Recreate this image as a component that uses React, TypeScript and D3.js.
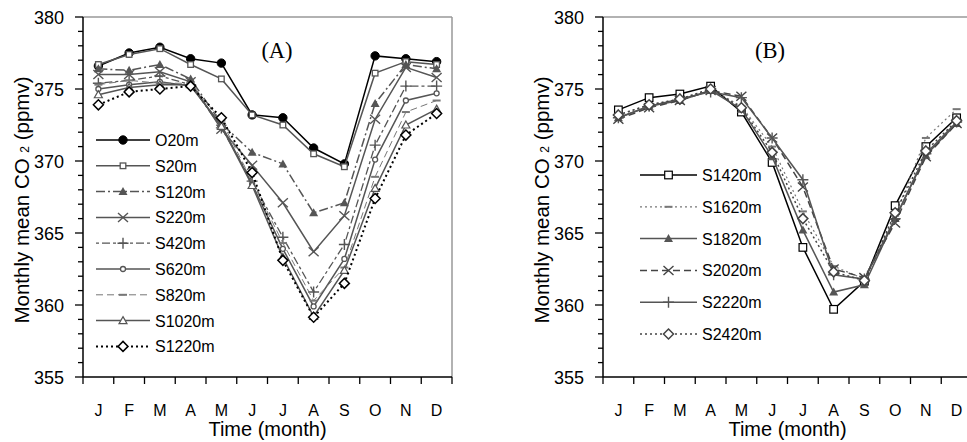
import React from "react";
import * as d3 from "d3";

const months = ["J", "F", "M", "A", "M2", "J2", "J3", "A2", "S", "O", "N", "D"];
const monthLabels = ["J", "F", "M", "A", "M", "J", "J", "A", "S", "O", "N", "D"];
const yTicks = [355, 360, 365, 370, 375, 380];

const seriesNamesA = ["O20m", "S20m", "S120m", "S220m", "S420m", "S620m", "S820m", "S1020m", "S1220m"];
const O20m = [376.6, 377.5, 377.9, 377.1, 376.8, 373.2, 373.0, 370.9, 369.8, 377.3, 377.1, 376.9];
const S20m = [376.7, 377.4, 377.8, 376.7, 375.7, 373.2, 372.5, 370.5, 369.6, 376.1, 376.9, 376.7];
const S120m = [376.4, 376.3, 376.7, 375.7, 372.6, 370.6, 369.8, 366.4, 367.1, 374.0, 376.7, 376.4];
const S220m = [376.0, 376.0, 376.2, 375.5, 372.2, 369.7, 367.1, 363.7, 366.2, 372.9, 376.5, 375.8];
const S420m = [375.4, 375.6, 375.9, 375.3, 372.3, 368.6, 364.7, 360.9, 364.2, 371.1, 375.2, 375.2];
const S620m = [375.0, 375.3, 375.5, 375.2, 372.5, 368.4, 363.9, 359.9, 363.2, 370.1, 374.2, 374.7];
const S820m = [375.3, 375.6, 375.4, 375.4, 372.8, 368.6, 364.3, 360.3, 362.6, 368.9, 373.4, 374.2];
const S1020m = [374.6, 375.1, 375.3, 375.3, 372.4, 368.3, 363.3, 359.2, 362.4, 368.1, 372.5, 373.6];
const S1220m = [373.9, 374.8, 375.0, 375.2, 373.0, 369.2, 363.1, 359.15, 361.5, 367.4, 371.8, 373.3];

const seriesNamesB = ["S1420m", "S1620m", "S1820m", "S2020m", "S2220m", "S2420m"];
const S1420m = [373.55, 374.4, 374.65, 375.2, 373.4, 369.9, 364.0, 359.7, 361.65, 366.9, 371.0, 373.0];
const S1620m = [373.2, 373.9, 374.3, 375.0, 373.8, 371.0, 366.5, 362.7, 361.8, 366.2, 371.6, 373.6];
const S1820m = [373.0, 373.8, 374.2, 374.9, 373.6, 370.3, 365.2, 360.9, 361.4, 366.0, 370.4, 372.6];
const S2020m = [372.9, 373.7, 374.2, 374.9, 374.5, 371.6, 368.2, 362.5, 361.9, 365.7, 370.3, 372.6];
const S2220m = [373.0, 373.8, 374.3, 374.8, 374.4, 371.6, 368.7, 362.1, 361.8, 366.0, 370.5, 372.7];
const S2420m = [373.2, 373.9, 374.3, 375.0, 373.7, 370.6, 366.0, 362.3, 361.7, 366.4, 370.7, 372.8];

type Style = { color: string; dash: string; marker: string; width: number };

const stylesA: Style[] = [
  { color: "#000", dash: "", marker: "circleFilled", width: 1.5 },
  { color: "#555", dash: "", marker: "squareSmall", width: 1.5 },
  { color: "#555", dash: "9,3,2,3", marker: "triFilled", width: 1.5 },
  { color: "#555", dash: "", marker: "x", width: 1.5 },
  { color: "#555", dash: "3,3,8,3", marker: "plus", width: 1.3 },
  { color: "#555", dash: "", marker: "circleSmall", width: 1.5 },
  { color: "#777", dash: "7,4", marker: "dash", width: 1 },
  { color: "#555", dash: "", marker: "triOpen", width: 1.5 },
  { color: "#000", dash: "2,3", marker: "diamondOpen", width: 2 },
];
const stylesB: Style[] = [
  { color: "#000", dash: "", marker: "squareOpen", width: 1.5 },
  { color: "#777", dash: "2,3", marker: "dash", width: 1.2 },
  { color: "#555", dash: "", marker: "triFilled", width: 1.5 },
  { color: "#444", dash: "7,4", marker: "x", width: 1.5 },
  { color: "#555", dash: "", marker: "plus", width: 1.5 },
  { color: "#444", dash: "2,3", marker: "diamondOpen", width: 1.5 },
];

const dataA = [O20m, S20m, S120m, S220m, S420m, S620m, S820m, S1020m, S1220m];
const dataB = [S1420m, S1620m, S1820m, S2020m, S2220m, S2420m];

function Marker({ x, y, type, color }: { x: number; y: number; type: string; color: string }) {
  switch (type) {
    case "circleFilled":
      return <circle cx={x} cy={y} r={4.2} fill={color} stroke={color} />;
    case "circleSmall":
      return <circle cx={x} cy={y} r={2.5} fill="#fff" stroke={color} strokeWidth={1.3} />;
    case "squareSmall":
      return <rect x={x - 2.8} y={y - 2.8} width={5.6} height={5.6} fill="#fff" stroke={color} strokeWidth={1.3} />;
    case "squareOpen":
      return <rect x={x - 3.8} y={y - 3.8} width={7.6} height={7.6} fill="#fff" stroke={color} strokeWidth={1.2} />;
    case "triFilled":
      return <path d={`M${x},${y - 4.5}L${x + 4.5},${y + 3.5}L${x - 4.5},${y + 3.5}Z`} fill={color} />;
    case "triOpen":
      return <path d={`M${x},${y - 4}L${x + 4},${y + 3}L${x - 4},${y + 3}Z`} fill="#fff" stroke={color} strokeWidth={1.2} />;
    case "x":
      return <path d={`M${x - 5},${y - 4.5}L${x + 5},${y + 4.5}M${x - 5},${y + 4.5}L${x + 5},${y - 4.5}`} stroke={color} strokeWidth={1.4} />;
    case "plus":
      return <path d={`M${x - 5.5},${y}L${x + 5.5},${y}M${x},${y - 5.5}L${x},${y + 5.5}`} stroke={color} strokeWidth={1.4} />;
    case "dash":
      return <path d={`M${x - 4},${y}L${x + 4},${y}`} stroke={color} strokeWidth={2} />;
    case "diamondOpen":
      return <path d={`M${x},${y - 5}L${x + 5},${y}L${x},${y + 5}L${x - 5},${y}Z`} fill="#fff" stroke={color} strokeWidth={1.5} />;
    default:
      return null;
  }
}

const Y0 = 17;
const Y1 = 377;

function Panel({
  left, right, title, titleX, names, data, styles, legX0, legX1, legY0, legStep, yLabelX,
}: {
  left: number; right: number; title: string; titleX: number; names: string[]; data: number[][];
  styles: Style[]; legX0: number; legX1: number; legY0: number; legStep: number; yLabelX: number;
}) {
  const x = d3.scaleBand<string>().domain(months).range([left, right]).padding(0);
  const y = d3.scaleLinear().domain([355, 380]).range([Y1, Y0]);
  const bw = x.bandwidth();
  const cx = (i: number) => (x(months[i]) as number) + bw / 2;
  const line = d3.line<number>().x((_, i) => cx(i)).y((v) => y(v));
  const minor = d3.range(355, 381, 1);
  const font = "'Liberation Sans', Arial, sans-serif";
  const bounds = [...months.map((m) => x(m) as number), right];
  return (
    <g>
      <line x1={left} x2={right} y1={Y0} y2={Y0} stroke="#999" strokeWidth={1.5} />
      <line x1={right} x2={right} y1={Y0} y2={Y1} stroke="#999" strokeWidth={1.5} />
      <line x1={left} x2={left} y1={Y0} y2={Y1} stroke="#000" strokeWidth={1.5} />
      <line x1={left} x2={right} y1={Y1} y2={Y1} stroke="#000" strokeWidth={1.5} />
      {minor.map((v) => (
        <line key={v} x1={left - (v % 5 === 0 ? 8 : 5)} x2={left} y1={y(v)} y2={y(v)} stroke="#000" strokeWidth={1.3} />
      ))}
      {yTicks.map((v) => (
        <text key={v} x={left - 19} y={y(v) + 6.5} textAnchor="end" fontSize={18} fontFamily={font} fill="#000">
          {v}
        </text>
      ))}
      {bounds.map((b, i) => (
        <line key={i} x1={b} x2={b} y1={Y1} y2={Y1 + 7} stroke="#000" strokeWidth={1.3} />
      ))}
      {months.map((m, i) => (
        <text key={m} x={cx(i)} y={416} textAnchor="middle" fontSize={16} fontFamily={font} fill="#000">
          {monthLabels[i]}
        </text>
      ))}
      <text x={(left + right) / 2} y={436} textAnchor="middle" fontSize={20} fontFamily={font} fill="#000">
        Time (month)
      </text>
      <text
        transform={`translate(${yLabelX},${200}) rotate(-90)`}
        textAnchor="middle"
        fontSize={20.5}
        fontFamily={font}
        fill="#000"
      >
        Monthly mean CO <tspan fontSize={12}>2</tspan> (ppmv)
      </text>
      <text x={titleX} y={58} textAnchor="middle" fontSize={22.5} fontFamily="'Liberation Serif', 'Times New Roman', serif" fill="#000">
        {title}
      </text>
      {data.map((vals, si) => (
        <g key={names[si]}>
          <path d={line(vals) || ""} fill="none" stroke={styles[si].color} strokeWidth={styles[si].width} strokeDasharray={styles[si].dash} />
          {vals.map((v, i) => (
            <Marker key={i} x={cx(i)} y={y(v)} type={styles[si].marker} color={styles[si].color} />
          ))}
        </g>
      ))}
      {names.map((n, si) => {
        const ly = legY0 + si * legStep;
        return (
          <g key={n}>
            <line x1={legX0} x2={legX1} y1={ly} y2={ly} stroke={styles[si].color} strokeWidth={styles[si].width} strokeDasharray={styles[si].dash} />
            <Marker x={(legX0 + legX1) / 2} y={ly} type={styles[si].marker} color={styles[si].color} />
            <text x={legX1 + 5} y={ly + 6} fontSize={16} fontFamily={font} fill="#000">
              {n}
            </text>
          </g>
        );
      })}
    </g>
  );
}

export default function App() {
  return (
    <svg width={967} height={442} style={{ position: "absolute", left: 0, top: 0, background: "#fff" }}>
      <rect width={967} height={442} fill="#fff" />
      <Panel left={83} right={452} title="(A)" titleX={277} names={seriesNamesA} data={dataA} styles={stylesA}
        legX0={96} legX1={150} legY0={140} legStep={25.8} yLabelX={29} />
      <Panel left={603} right={972} title="(B)" titleX={770} names={seriesNamesB} data={dataB} styles={stylesB}
        legX0={640} legX1={697} legY0={175} legStep={31.8} yLabelX={549} />
    </svg>
  );
}
